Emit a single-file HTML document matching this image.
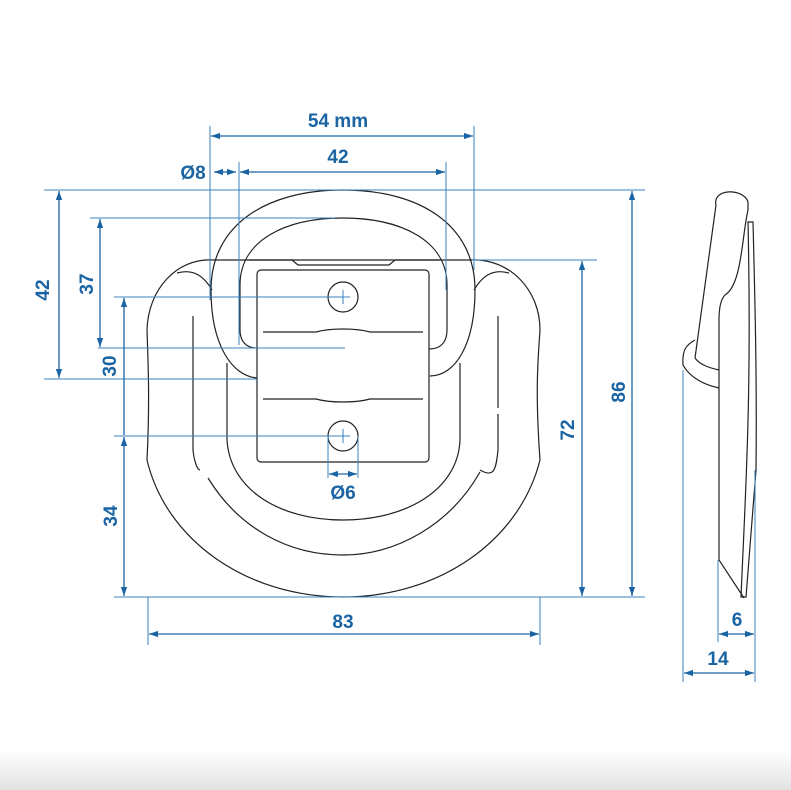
<!DOCTYPE html>
<html><head><style>
html,body{margin:0;padding:0;background:#fff;}
svg{display:block;}
text{font-family:"Liberation Sans",Arial,sans-serif;font-weight:bold;font-size:19px;fill:#1a64a3;}
</style></head><body>
<svg width="791" height="790" viewBox="0 0 791 790" xmlns="http://www.w3.org/2000/svg">
<defs>
<marker id="a" viewBox="0 0 10 10" refX="10" refY="5" markerWidth="9" markerHeight="9" orient="auto-start-reverse" markerUnits="userSpaceOnUse"><path d="M0,1.5 L10,5 L0,8.5 z" fill="#1a64a3"/></marker>
<linearGradient id="g" x1="0" y1="0" x2="0" y2="1"><stop offset="0" stop-color="#fff"/><stop offset="1" stop-color="#e2e2e2"/></linearGradient>
</defs>
<rect x="0" y="750" width="791" height="40" fill="url(#g)"/>
<g fill="none" stroke="#222" stroke-width="1.2">
<path d="M213,260 L470,260 C510,258 540,290 540,330 C538,360 535,390 540,460 C520,540 440,597 343,597 C246,597 166,540 147,460 C150,400 148,360 147,330 C148,290 176,258 213,260 Z"/>
<path d="M177,273 C195,268 205,278 212,290"/>
<path d="M509,273 C491,268 481,278 474,290"/>
<path d="M193,316 L193,450 C194,460 197,470 200,470"/>
<path d="M498,316 L498,408"/>
<path d="M498,414 L498,450 C496,470 494,478 480,470"/>
<path d="M208,478 C240,530 290,555 343,555 C396,555 450,525 480,472"/>
<path d="M227,363 L227,440 C230,490 280,520 343,520 C406,520 458,490 460,440 L460,363"/>
<path d="M343,190 C420,190 475,225 475,290 C475,345 455,376 430,376 M257,378 C232,376 211,345 211,290 C211,225 266,190 343,190"/>
<path d="M343,218 C400,218 447,240 447,285 L447,330 C447,343 440,349 429,349 M257,348 C245,348 240,340 240,330 L240,285 C240,240 286,218 343,218"/>
<path d="M249,260 L292,260 L298,265 L389,265 L395,260 L440,260"/>
<rect x="257" y="270" width="172" height="192" rx="4"/>
<circle cx="343" cy="297" r="15"/>
<circle cx="343" cy="436" r="15"/>
<path d="M263,332 L316,332 C330,328 356,328 370,332 L423,332"/>
<path d="M263,399 L316,399 C330,403 356,403 370,399 L423,399"/>
<path d="M716,205 C712,188 744,188 748,202 L748,210 C742,235 742,285 725,295 C720,300 719,310 719,320 L719,560 L744,598"/>
<path d="M716,205 L695,358"/>
<path d="M748,222 L753,222 C755,300 757,380 756,470 L746,597 L741,597 C745,500 752,400 748,222 Z"/>
<path d="M695,340 C686,345 682,350 683,365 C690,378 705,385 719,388"/>
<path d="M695,358 C700,365 710,368 719,370"/>
</g>
<g stroke="#3a82bb" stroke-width="1" fill="none">
<path d="M210,126 V300 M474,126 V270 M239,162 V345 M446,162 V290"/>
<path d="M44,190 H645 M90,218 H335 M472,260 H597 M114,297 H350 M98,348 H345 M44,379 H258 M114,436 H350 M114,597 H645"/>
<path d="M343,290 V304 M343,429 V443"/>
<path d="M148,597 V645 M540,597 V645 M328,436 V478 M358,436 V478"/>
<path d="M683,370 V682 M718,560 V642 M755,470 V682"/>
</g>
<g stroke="#1a64a3" stroke-width="1.3" fill="none">
<line x1="211" y1="136" x2="473" y2="136" marker-start="url(#a)" marker-end="url(#a)"/>
<line x1="240" y1="172" x2="445" y2="172" marker-start="url(#a)" marker-end="url(#a)"/>
<line x1="214" y1="172" x2="236" y2="172" marker-start="url(#a)" marker-end="url(#a)"/>
<line x1="59" y1="191" x2="59" y2="378" marker-start="url(#a)" marker-end="url(#a)"/>
<line x1="100" y1="219" x2="100" y2="347" marker-start="url(#a)" marker-end="url(#a)"/>
<line x1="124" y1="298" x2="124" y2="435" marker-start="url(#a)"/>
<line x1="124" y1="437" x2="124" y2="596" marker-start="url(#a)" marker-end="url(#a)"/>
<line x1="582" y1="261" x2="582" y2="596" marker-start="url(#a)" marker-end="url(#a)"/>
<line x1="632" y1="191" x2="632" y2="596" marker-start="url(#a)" marker-end="url(#a)"/>
<line x1="149" y1="634" x2="539" y2="634" marker-start="url(#a)" marker-end="url(#a)"/>
<line x1="329" y1="474" x2="357" y2="474" marker-start="url(#a)" marker-end="url(#a)"/>
<line x1="719" y1="634" x2="754" y2="634" marker-start="url(#a)" marker-end="url(#a)"/>
<line x1="684" y1="673" x2="754" y2="673" marker-start="url(#a)" marker-end="url(#a)"/>
</g>
<g text-anchor="middle">
<text x="338" y="127">54 mm</text>
<text x="338" y="163">42</text>
<text x="193" y="179">Ø8</text>
<text x="343" y="499">Ø6</text>
<text x="343" y="628">83</text>
<text x="737" y="626">6</text>
<text x="718" y="665">14</text>
<text transform="translate(49,290) rotate(-90)">42</text>
<text transform="translate(93,284) rotate(-90)">37</text>
<text transform="translate(116,366) rotate(-90)">30</text>
<text transform="translate(117,516) rotate(-90)">34</text>
<text transform="translate(574,430) rotate(-90)">72</text>
<text transform="translate(625,392) rotate(-90)">86</text>
</g>
</svg>
</body></html>
